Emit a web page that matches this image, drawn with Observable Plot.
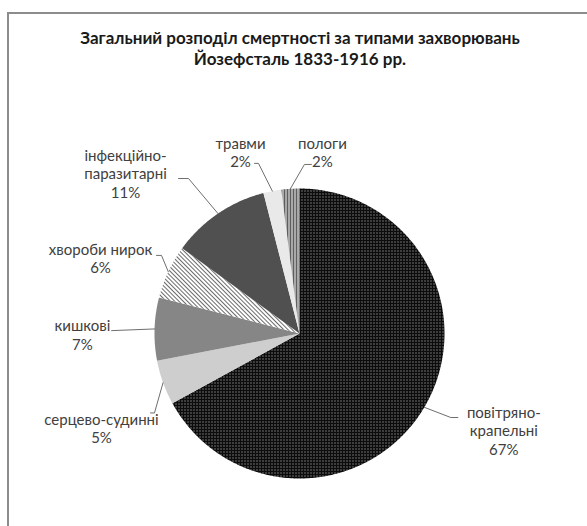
<!DOCTYPE html>
<html>
<head>
<meta charset="utf-8">
<script src="https://cdn.jsdelivr.net/npm/d3@7"></script>
<script src="https://cdn.jsdelivr.net/npm/@observablehq/plot@0.6"></script>
<style>
  html, body { margin: 0; padding: 0; background: #fff; overflow: hidden; width: 587px; height: 526px; }
  #chart { position: absolute; left: 0; top: 0; width: 587px; height: 526px; overflow: hidden; }
  #chart svg { display: block; }
  #title { position: absolute; left: 13px; top: 27px; width: 574px; text-align: center;
           font-family: Lato, "Open Sans", sans-serif; font-weight: bold; font-size: 17px;
           line-height: 21px; color: #1a1a1a; white-space: nowrap; }
  #frame { position: absolute; left: 7px; top: 12px; width: 560px; height: 514px; box-sizing: border-box;
           border-left: 2px solid #8c8c8c; border-top: 2px solid #8c8c8c; }
  #frame2 { position: absolute; left: 567px; top: 12px; width: 20px; height: 2px; background: #8c8c8c; }
</style>
</head>
<body>
<div id="chart"></div>
<div id="title">Загальний розподіл смертності за типами захворювань<br>Йозефсталь 1833-1916 рр.</div>
<div id="frame"></div>
<div id="frame2"></div>
<script>
// ---- data ----
const categories = ["повітряно-крапельні", "серцево-судинні", "кишкові", "хвороби нирок", "інфекційно-паразитарні", "травми", "пологи"];
const values = [67, 5, 7, 6, 11, 2, 2];
const labelTexts = ["повітряно-\nкрапельні", "серцево-судинні", "кишкові", "хвороби нирок", "інфекційно-\nпаразитарні", "травми", "пологи"];

// ---- layout (not data) ----
const W = 587, H = 526, CX = 299, CY = 333, R = 145;
// label centre in polar form: [distance in radii, angle in degrees clockwise from 12 o'clock]
const labelPolar = [[1.56, 115.4], [1.513, 244.5], [1.497, 269.7], [1.468, 290.8], [1.63, 312.6], [1.317, 342], [1.262, 7.2]];
// leader end relative to label centre (px) and horizontal elbow length (px, signed)
const hookOffset = [[-46, -13, -7], [49, -15, 4], [29, -4, 0], [56, -2.5, 5], [53, 5, 10], [14, 11.5, 4], [-11, 12.5, -7]];

const patterns = `
<defs>
 <pattern id="pat0" width="3" height="3" patternUnits="userSpaceOnUse">
   <rect width="3" height="3" fill="#0c0c0c"/><rect x="1" y="1" width="1" height="1" fill="#cfcfcf"/></pattern>
 <pattern id="pat1" width="2" height="2" patternUnits="userSpaceOnUse">
   <rect width="2" height="2" fill="#e4e4e4"/><rect width="1" height="1" fill="#8a8a8a"/></pattern>
 <pattern id="pat2" width="2" height="2" patternUnits="userSpaceOnUse">
   <rect width="2" height="2" fill="#b2b2b2"/><rect width="1" height="1" fill="#5a5a5a"/><rect x="1" y="1" width="1" height="1" fill="#5a5a5a"/></pattern>
 <pattern id="pat3" width="3" height="3" patternUnits="userSpaceOnUse" patternTransform="rotate(-45)">
   <rect width="3" height="3" fill="#fff"/><rect width="1" height="3" fill="#6a6a6a"/></pattern>
 <pattern id="pat4" width="2" height="2" patternUnits="userSpaceOnUse">
   <rect width="2" height="2" fill="#7a7a7a"/><rect width="1" height="1" fill="#262626"/><rect x="1" y="1" width="1" height="1" fill="#262626"/></pattern>
 <pattern id="pat5" width="2" height="2" patternUnits="userSpaceOnUse">
   <rect width="2" height="2" fill="#fff"/><rect width="1" height="1" fill="#a8a8a8"/></pattern>
 <pattern id="pat6" width="3" height="3" patternUnits="userSpaceOnUse">
   <rect width="3" height="3" fill="#5e5e5e"/><rect width="1" height="3" fill="#f2f2f2"/></pattern>
</defs>`;

// ---- geometry derived from data ----
const total = d3.sum(values);
const arcs = d3.pie().sort(null).value(d => d)(values);
const toRad = Math.PI / 180;

const slicePts = arcs.map((a, i) => {
  const pts = [{x: 0, y: 0}];
  const n = Math.max(2, Math.ceil((a.endAngle - a.startAngle) / (0.5 * toRad)));
  for (let k = 0; k <= n; k++) {
    const t = a.startAngle + (a.endAngle - a.startAngle) * k / n;
    pts.push({x: Math.sin(t), y: Math.cos(t)});
  }
  pts.push({x: 0, y: 0});
  return pts;
});

const labels = arcs.map((a, i) => {
  const [k, deg] = labelPolar[i];
  return {
    x: k * Math.sin(deg * toRad), y: k * Math.cos(deg * toRad),
    text: labelTexts[i] + "\n" + Math.round(values[i] / total * 100) + "%"
  };
});

const leaders = arcs.map((a, i) => {
  const mid = (a.startAngle + a.endAngle) / 2;
  const L = labels[i];
  const [dx, dy, e] = hookOffset[i];
  const ex = L.x + dx / R, ey = L.y - dy / R;
  return [
    {i, x: Math.sin(mid), y: Math.cos(mid)},
    {i, x: ex + e / R, y: ey},
    {i, x: ex, y: ey}
  ];
}).flat();

const plot = Plot.plot({
  width: 560, height: H,
  margin: 0,
  style: {background: "transparent"},
  x: {domain: [-CX / R, (560 - CX) / R], axis: null},
  y: {domain: [-(H - CY) / R, CY / R], axis: null},
  marks: [
    ...slicePts.map((pts, i) => Plot.line(pts, {x: "x", y: "y", fill: `url(#pat${i})`, stroke: "none"})),
    Plot.line(leaders, {x: "x", y: "y", z: "i", stroke: "#6e6e6e", strokeWidth: 1}),
    Plot.text(labels, {x: "x", y: "y", text: "text", fontSize: 15, lineHeight: 1.24,
      fontFamily: "Lato, 'Open Sans', sans-serif", fill: "#404040", textAnchor: "middle"})
  ]
});
plot.insertAdjacentHTML("afterbegin", patterns);
document.getElementById("chart").appendChild(plot);
</script>
</body>
</html>
